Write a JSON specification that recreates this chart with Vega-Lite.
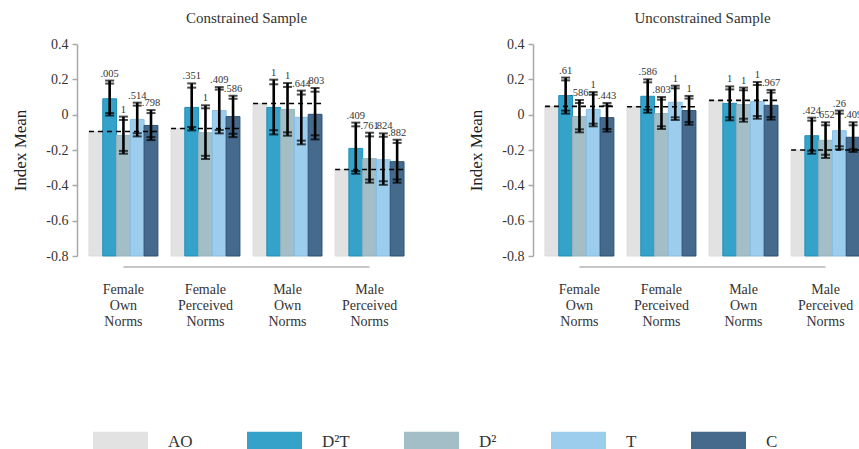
{
  "$schema": "https://vega.github.io/schema/vega-lite/v6.json",
  "padding": {"left": 11, "top": 11, "right": 0, "bottom": 0},
  "background": "white",
  "data": {"values": [
    {"sample": "Constrained Sample", "group": "Female Own Norms", "arm": "AO", "mean": -0.095},
    {"sample": "Constrained Sample", "group": "Female Own Norms", "arm": "D²T", "mean": 0.09, "lo95": -0.005, "hi95": 0.193, "lo90": 0.009, "hi90": 0.176, "p": ".005"},
    {"sample": "Constrained Sample", "group": "Female Own Norms", "arm": "D²", "mean": -0.117, "lo95": -0.221, "hi95": -0.011, "lo90": -0.205, "hi90": -0.03, "p": "1"},
    {"sample": "Constrained Sample", "group": "Female Own Norms", "arm": "T", "mean": -0.027, "lo95": -0.123, "hi95": 0.068, "lo90": -0.105, "hi90": 0.051, "p": ".514"},
    {"sample": "Constrained Sample", "group": "Female Own Norms", "arm": "C", "mean": -0.061, "lo95": -0.144, "hi95": 0.026, "lo90": -0.127, "hi90": 0.009, "p": ".798"},
    {"sample": "Constrained Sample", "group": "Female Perceived Norms", "arm": "AO", "mean": -0.078},
    {"sample": "Constrained Sample", "group": "Female Perceived Norms", "arm": "D²T", "mean": 0.041, "lo95": -0.089, "hi95": 0.177, "lo90": -0.07, "hi90": 0.153, "p": ".351"},
    {"sample": "Constrained Sample", "group": "Female Perceived Norms", "arm": "D²", "mean": -0.102, "lo95": -0.251, "hi95": 0.053, "lo90": -0.233, "hi90": 0.036, "p": "1"},
    {"sample": "Constrained Sample", "group": "Female Perceived Norms", "arm": "T", "mean": 0.023, "lo95": -0.106, "hi95": 0.156, "lo90": -0.087, "hi90": 0.142, "p": ".409"},
    {"sample": "Constrained Sample", "group": "Female Perceived Norms", "arm": "C", "mean": -0.011, "lo95": -0.127, "hi95": 0.107, "lo90": -0.108, "hi90": 0.09, "p": ".586"},
    {"sample": "Constrained Sample", "group": "Male Own Norms", "arm": "AO", "mean": 0.063},
    {"sample": "Constrained Sample", "group": "Male Own Norms", "arm": "D²T", "mean": 0.041, "lo95": -0.112, "hi95": 0.198, "lo90": -0.088, "hi90": 0.172, "p": "1"},
    {"sample": "Constrained Sample", "group": "Male Own Norms", "arm": "D²", "mean": 0.03, "lo95": -0.119, "hi95": 0.179, "lo90": -0.1, "hi90": 0.157, "p": "1"},
    {"sample": "Constrained Sample", "group": "Male Own Norms", "arm": "T", "mean": -0.015, "lo95": -0.168, "hi95": 0.136, "lo90": -0.147, "hi90": 0.114, "p": ".644"},
    {"sample": "Constrained Sample", "group": "Male Own Norms", "arm": "C", "mean": 0.002, "lo95": -0.14, "hi95": 0.151, "lo90": -0.117, "hi90": 0.13, "p": ".803"},
    {"sample": "Constrained Sample", "group": "Male Perceived Norms", "arm": "AO", "mean": -0.31},
    {"sample": "Constrained Sample", "group": "Male Perceived Norms", "arm": "D²T", "mean": -0.191, "lo95": -0.334, "hi95": -0.045, "lo90": -0.319, "hi90": -0.066, "p": ".409"},
    {"sample": "Constrained Sample", "group": "Male Perceived Norms", "arm": "D²", "mean": -0.249, "lo95": -0.385, "hi95": -0.102, "lo90": -0.367, "hi90": -0.123, "p": ".761"},
    {"sample": "Constrained Sample", "group": "Male Perceived Norms", "arm": "T", "mean": -0.255, "lo95": -0.397, "hi95": -0.106, "lo90": -0.377, "hi90": -0.125, "p": ".824"},
    {"sample": "Constrained Sample", "group": "Male Perceived Norms", "arm": "C", "mean": -0.266, "lo95": -0.385, "hi95": -0.142, "lo90": -0.367, "hi90": -0.16, "p": ".882"},
    {"sample": "Unconstrained Sample", "group": "Female Own Norms", "arm": "AO", "mean": 0.047},
    {"sample": "Unconstrained Sample", "group": "Female Own Norms", "arm": "D²T", "mean": 0.108, "lo95": 0.006, "hi95": 0.21, "lo90": 0.023, "hi90": 0.194, "p": ".61"},
    {"sample": "Unconstrained Sample", "group": "Female Own Norms", "arm": "D²", "mean": -0.011, "lo95": -0.1, "hi95": 0.083, "lo90": -0.083, "hi90": 0.066, "p": ".586"},
    {"sample": "Unconstrained Sample", "group": "Female Own Norms", "arm": "T", "mean": 0.03, "lo95": -0.066, "hi95": 0.128, "lo90": -0.051, "hi90": 0.113, "p": "1"},
    {"sample": "Unconstrained Sample", "group": "Female Own Norms", "arm": "C", "mean": -0.017, "lo95": -0.096, "hi95": 0.066, "lo90": -0.081, "hi90": 0.051, "p": ".443"},
    {"sample": "Unconstrained Sample", "group": "Female Perceived Norms", "arm": "AO", "mean": 0.045},
    {"sample": "Unconstrained Sample", "group": "Female Perceived Norms", "arm": "D²T", "mean": 0.104, "lo95": 0.011, "hi95": 0.2, "lo90": 0.028, "hi90": 0.183, "p": ".586"},
    {"sample": "Unconstrained Sample", "group": "Female Perceived Norms", "arm": "D²", "mean": 0.006, "lo95": -0.081, "hi95": 0.1, "lo90": -0.066, "hi90": 0.085, "p": ".803"},
    {"sample": "Unconstrained Sample", "group": "Female Perceived Norms", "arm": "T", "mean": 0.07, "lo95": -0.03, "hi95": 0.164, "lo90": -0.015, "hi90": 0.149, "p": "1"},
    {"sample": "Unconstrained Sample", "group": "Female Perceived Norms", "arm": "C", "mean": 0.023, "lo95": -0.057, "hi95": 0.106, "lo90": -0.042, "hi90": 0.091, "p": "1"},
    {"sample": "Unconstrained Sample", "group": "Male Own Norms", "arm": "AO", "mean": 0.081},
    {"sample": "Unconstrained Sample", "group": "Male Own Norms", "arm": "D²T", "mean": 0.064, "lo95": -0.032, "hi95": 0.16, "lo90": -0.015, "hi90": 0.143, "p": "1"},
    {"sample": "Unconstrained Sample", "group": "Male Own Norms", "arm": "D²", "mean": 0.057, "lo95": -0.04, "hi95": 0.153, "lo90": -0.023, "hi90": 0.138, "p": "1"},
    {"sample": "Unconstrained Sample", "group": "Male Own Norms", "arm": "T", "mean": 0.075, "lo95": -0.023, "hi95": 0.185, "lo90": -0.008, "hi90": 0.168, "p": "1"},
    {"sample": "Unconstrained Sample", "group": "Male Own Norms", "arm": "C", "mean": 0.053, "lo95": -0.028, "hi95": 0.14, "lo90": -0.013, "hi90": 0.125, "p": ".967"},
    {"sample": "Unconstrained Sample", "group": "Male Perceived Norms", "arm": "AO", "mean": -0.2},
    {"sample": "Unconstrained Sample", "group": "Male Perceived Norms", "arm": "D²T", "mean": -0.119, "lo95": -0.221, "hi95": -0.017, "lo90": -0.204, "hi90": -0.034, "p": ".424"},
    {"sample": "Unconstrained Sample", "group": "Male Perceived Norms", "arm": "D²", "mean": -0.145, "lo95": -0.245, "hi95": -0.043, "lo90": -0.227, "hi90": -0.06, "p": ".652"},
    {"sample": "Unconstrained Sample", "group": "Male Perceived Norms", "arm": "T", "mean": -0.091, "lo95": -0.196, "hi95": 0.023, "lo90": -0.179, "hi90": 0.006, "p": ".26"},
    {"sample": "Unconstrained Sample", "group": "Male Perceived Norms", "arm": "C", "mean": -0.128, "lo95": -0.211, "hi95": -0.043, "lo90": -0.196, "hi90": -0.06, "p": ".409"}
  ]},
  "facet": {"column": {"field": "sample", "type": "nominal", "title": null,
    "header": {"labelFont": "Liberation Serif", "labelFontSize": 15, "labelColor": "#333", "labelPadding": 11}}},
  "spacing": 51,
  "resolve": {"axis": {"y": "independent"}},
  "spec": {
    "width": 339,
    "height": 212,
    "encoding": {
      "x": {"field": "group", "type": "nominal", "title": null,
        "sort": ["Female Own Norms", "Female Perceived Norms", "Male Own Norms", "Male Perceived Norms"],
        "scale": {"paddingInner": 0.16, "paddingOuter": 0.146}}
    },
    "layer": [
      {
        "mark": {"type": "bar", "strokeWidth": 1},
        "encoding": {
          "xOffset": {"field": "arm", "type": "nominal", "scale": {"domain": ["AO", "D²T", "D²", "T", "C"], "paddingInner": 0, "paddingOuter": 0}},
          "y": {"field": "mean", "type": "quantitative", "title": "Index Mean", "scale": {"domain": [-0.8, 0.4], "nice": false, "zero": false}},
          "y2": {"datum": -0.8},
          "color": {"field": "arm", "type": "nominal",
            "scale": {"domain": ["AO", "D²T", "D²", "T", "C"], "range": ["#e2e2e2", "#34a2c9", "#a3bec7", "#9dcdec", "#466a8c"]},
            "legend": {"title": null, "orient": "none", "direction": "horizontal", "legendX": 16, "legendY": 370,
              "symbolType": "M-1,-0.364H1V0.364H-1Z", "symbolSize": 3025, "symbolStrokeWidth": 0, "symbolOpacity": 1,
              "labelFont": "Liberation Serif", "labelFontSize": 17, "labelColor": "#333", "labelOffset": 20, "columnPadding": 54}},
          "stroke": {"field": "arm", "type": "nominal",
            "scale": {"domain": ["AO", "D²T", "D²", "T", "C"], "range": ["#dcdcdc", "#1f8fbd", "#94b2bc", "#86bfe6", "#2d5176"]},
            "legend": null}
        }
      },
      {
        "transform": [{"filter": "datum.arm == 'AO'"}],
        "mark": {"type": "rule", "strokeWidth": 1.6, "strokeDash": [5, 4], "color": "black"},
        "encoding": {
          "x": {"field": "group", "type": "nominal", "bandPosition": 0},
          "x2": {"field": "group", "bandPosition": 1},
          "y": {"field": "mean", "type": "quantitative", "title": "Index Mean"}
        }
      },
      {
        "transform": [{"filter": "datum.arm != 'AO'"}],
        "mark": {"type": "rule", "strokeWidth": 2.6, "color": "black"},
        "encoding": {
          "xOffset": {"field": "arm", "type": "nominal"},
          "y": {"field": "lo95", "type": "quantitative", "title": "Index Mean"},
          "y2": {"field": "hi95"}
        }
      },
      {
        "transform": [{"filter": "datum.arm != 'AO'"}, {"fold": ["lo95", "hi95", "lo90", "hi90"], "as": ["k", "v"]}],
        "mark": {"type": "tick", "size": 9, "thickness": 2, "color": "black"},
        "encoding": {
          "xOffset": {"field": "arm", "type": "nominal"},
          "y": {"field": "v", "type": "quantitative", "title": "Index Mean"}
        }
      },
      {
        "transform": [{"filter": "datum.arm != 'AO'"}],
        "mark": {"type": "text", "baseline": "bottom", "dy": -2, "fontSize": 10.5, "font": "Liberation Serif", "color": "#333"},
        "encoding": {
          "xOffset": {"field": "arm", "type": "nominal"},
          "y": {"field": "hi95", "type": "quantitative", "title": "Index Mean"},
          "text": {"field": "p", "type": "nominal"}
        }
      },
      {
        "transform": [{"filter": "datum.group == 'Female Own Norms' && datum.arm == 'AO'"}],
        "mark": {"type": "rule", "strokeWidth": 1.5, "color": "#b4b4b4"},
        "encoding": {
          "x": {"datum": "Female Own Norms"},
          "x2": {"datum": "Male Perceived Norms"},
          "y": {"datum": -0.862, "type": "quantitative", "title": "Index Mean"}
        }
      }
    ]
  },
  "config": {
    "view": {"stroke": null},
    "font": "Liberation Serif",
    "axisX": {"domain": false, "ticks": false, "labelAngle": 0, "labelExpr": "split(datum.label, ' ')",
      "labelFontSize": 14, "labelLineHeight": 16, "labelPadding": 14, "labelColor": "#333", "labelFont": "Liberation Serif"},
    "axisY": {"values": [-0.8, -0.6, -0.4, -0.2, 0, 0.2, 0.4], "grid": false,
      "labelExpr": "datum.value == 0 ? '0' : (datum.value < 0 ? '-' : '') + format(abs(datum.value), '.1f')",
      "domainColor": "#a8a8a8", "domainWidth": 1.5, "tickColor": "#a8a8a8", "tickWidth": 1.5, "tickSize": 5,
      "labelPadding": 4, "labelFontSize": 14, "labelColor": "#333", "labelFont": "Liberation Serif",
      "titleFontSize": 17, "titleFontWeight": "normal", "titleColor": "#222", "titlePadding": 16, "titleFont": "Liberation Serif"}
  }
}
